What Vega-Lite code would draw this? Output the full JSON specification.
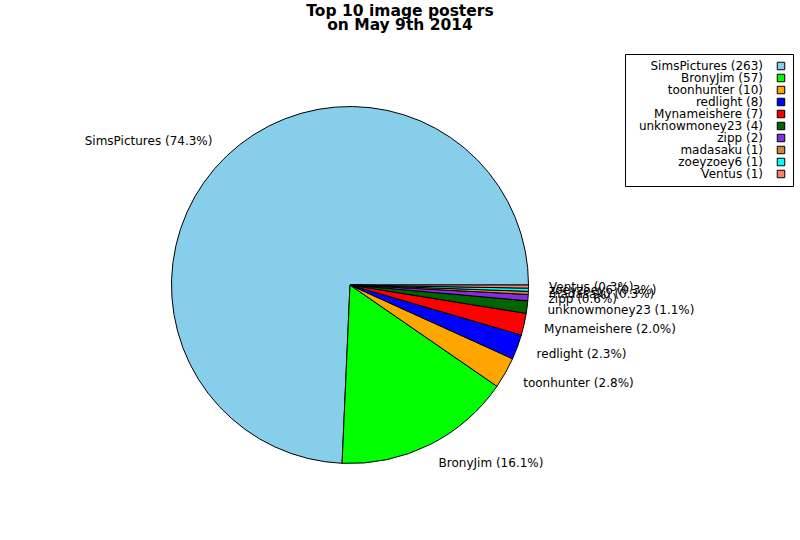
{
  "$schema": "https://vega.github.io/schema/vega-lite/v6.json",
  "autosize": "none",
  "width": 700,
  "height": 480,
  "padding": {"left": 0, "top": 45, "right": 100, "bottom": 15},
  "background": "white",
  "title": {
    "text": ["Top 10 image posters", "on May 9th 2014"],
    "font": "DejaVu Sans",
    "fontSize": 15.5,
    "fontWeight": "bold",
    "lineHeight": 13.5,
    "color": "black",
    "anchor": "middle",
    "dx": 50,
    "offset": 12
  },
  "data": {
    "values": [
      {"rank": 1, "name": "SimsPictures", "count": 263, "label": "SimsPictures (74.3%)", "legend": "SimsPictures (263)"},
      {"rank": 2, "name": "BronyJim", "count": 57, "label": "BronyJim (16.1%)", "legend": "BronyJim (57)"},
      {"rank": 3, "name": "toonhunter", "count": 10, "label": "toonhunter (2.8%)", "legend": "toonhunter (10)"},
      {"rank": 4, "name": "redlight", "count": 8, "label": "redlight (2.3%)", "legend": "redlight (8)"},
      {"rank": 5, "name": "Mynameishere", "count": 7, "label": "Mynameishere (2.0%)", "legend": "Mynameishere (7)"},
      {"rank": 6, "name": "unknowmoney23", "count": 4, "label": "unknowmoney23 (1.1%)", "legend": "unknowmoney23 (4)"},
      {"rank": 7, "name": "zipp", "count": 2, "label": "zipp (0.6%)", "legend": "zipp (2)"},
      {"rank": 8, "name": "madasaku", "count": 1, "label": "madasaku (0.3%)", "legend": "madasaku (1)"},
      {"rank": 9, "name": "zoeyzoey6", "count": 1, "label": "zoeyzoey6 (0.3%)", "legend": "zoeyzoey6 (1)"},
      {"rank": 10, "name": "Ventus", "count": 1, "label": "Ventus (0.3%)", "legend": "Ventus (1)"}
    ]
  },
  "encoding": {
    "theta": {"field": "count", "type": "quantitative", "stack": true, "scale": {"range": [1.5707963, 7.8539816]}},
    "order": {"field": "rank", "type": "quantitative", "sort": "descending"}
  },
  "layer": [
    {
      "mark": {"type": "arc", "outerRadius": 178.5, "stroke": "black", "strokeWidth": 1},
      "encoding": {
        "color": {
          "field": "legend",
          "type": "nominal",
          "scale": {
            "domain": ["SimsPictures (263)", "BronyJim (57)", "toonhunter (10)", "redlight (8)", "Mynameishere (7)", "unknowmoney23 (4)", "zipp (2)", "madasaku (1)", "zoeyzoey6 (1)", "Ventus (1)"],
            "range": ["#87CEEB", "#00FF00", "#FFA500", "#0000FF", "#FF0000", "#006400", "#8A2BE2", "#CD853F", "#00FFFF", "#FA8072"]
          },
          "legend": {
            "orient": "none",
            "legendX": 625,
            "legendY": 9,
            "title": null,
            "strokeColor": "black",
            "fillColor": "white",
            "padding": 6,
            "cornerRadius": 0,
            "labelFont": "DejaVu Sans",
            "labelFontSize": 12,
            "labelColor": "black",
            "labelAlign": "right",
            "labelOffset": -24,
            "labelLimit": 0,
            "symbolOffset": 144,
            "rowPadding": 0,
            "symbolType": "square",
            "symbolSize": 56,
            "symbolStrokeColor": "black",
            "symbolStrokeWidth": 1,
            "symbolOpacity": 1
          }
        }
      }
    },
    {
      "mark": {"type": "text", "radius": 199, "align": "right", "baseline": "middle", "font": "DejaVu Sans", "fontSize": 12, "color": "black"},
      "encoding": {
        "text": {"condition": {"test": "datum.rank == 1", "field": "label", "type": "nominal"}, "value": ""}
      }
    },
    {
      "mark": {"type": "text", "radius": 199, "align": "left", "baseline": "middle", "font": "DejaVu Sans", "fontSize": 12, "color": "black"},
      "encoding": {
        "text": {"condition": {"test": "datum.rank != 1", "field": "label", "type": "nominal"}, "value": ""}
      }
    }
  ],
  "config": {
    "view": {"stroke": null},
    "font": "DejaVu Sans"
  }
}
